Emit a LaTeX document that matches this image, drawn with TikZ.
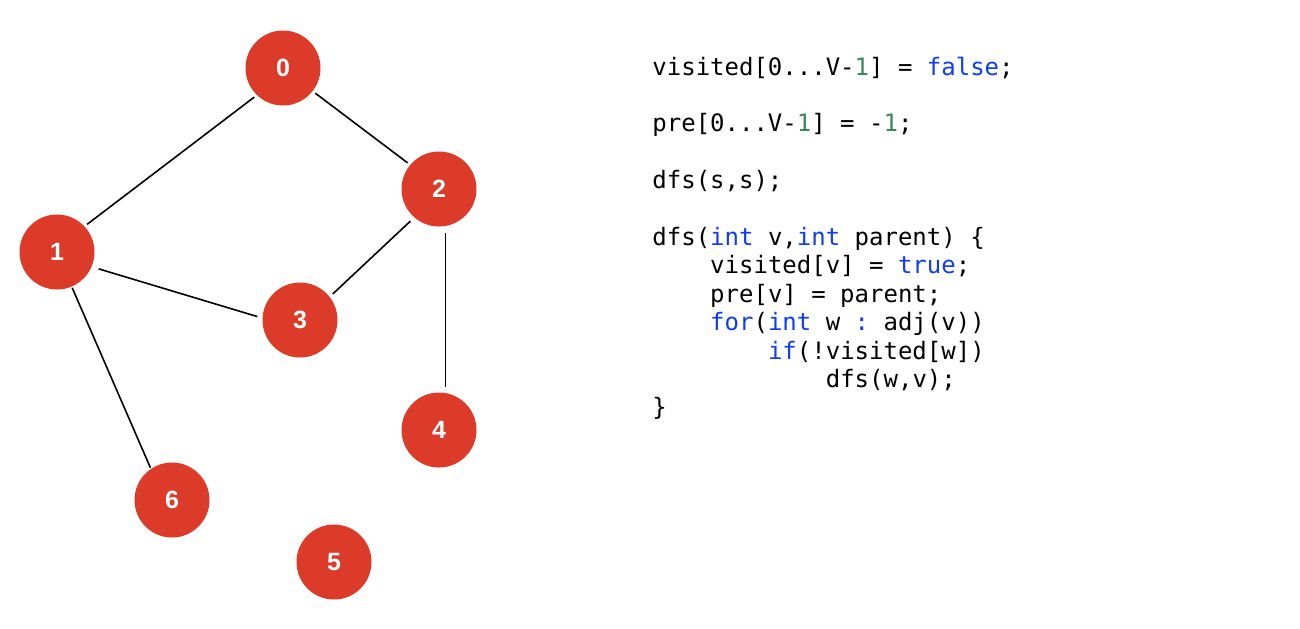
\documentclass[tikz,border=0pt]{standalone}
\usepackage{fontspec}
\setmonofont{DejaVu Sans Mono}
\newfontfamily\labelfont{Liberation Sans}
\usepackage{tikz}
\usetikzlibrary{positioning}
\definecolor{vertred}{HTML}{DB3B28}
\definecolor{kwblue}{HTML}{0F3CF5}
\definecolor{litgreen}{HTML}{3A8A5C}
\newcommand{\kw}[1]{\textcolor{kwblue}{#1}}
\newcommand{\lit}[1]{\textcolor{litgreen}{#1}}

\begin{document}
\begin{tikzpicture}[
x=0.5pt,y=-0.5pt,
vert/.style={circle,fill=vertred,minimum size=37.5pt,inner sep=0pt,
text=white,font=\labelfont\bfseries\fontsize{12.5}{14}\selectfont},
edge/.style={line width=0.8pt,shorten <=1.5pt,shorten >=1.5pt},
code/.style={anchor=base west,inner sep=0pt,
font=\ttfamily\fontsize{12}{14}\selectfont}
]
\useasboundingbox (0,0) rectangle (1300,628);

% vertices
\node[vert] (n0) at (283,68)  {0};
\node[vert] (n1) at (57,252)  {1};
\node[vert] (n2) at (439,189) {2};
\node[vert] (n3) at (300,320) {3};
\node[vert] (n4) at (439,430) {4};
\node[vert] (n5) at (334,562) {5};
\node[vert] (n6) at (172,500) {6};

% edges
\draw[edge] (n0.226) -- (n1.43);
\draw[edge] (n0.-38) -- (n2.140);
\draw[edge,shorten <=3.5pt,shorten >=2.5pt] (n1.-23) -- (n3.177);
\draw[edge,shorten <=2.5pt,shorten >=2pt] (n2.229) -- (n3.38);
\draw[edge,shorten <=3.5pt,shorten >=3pt] (n2.-80) -- (n4.80);
\draw[edge,shorten <=0.5pt,shorten >=0.5pt] (n1.-67) -- (n6.124);

% code
\foreach \row/\ind/\txt in {
0/0/{visited[0...V-\lit{1}] = \kw{false};},
2/0/{pre[0...V-\lit{1}] = -\lit{1};},
4/0/{dfs(s,s);},
6/0/{dfs(\kw{int} v,\kw{int} parent) \{},
7/4/{visited[v] = \kw{true};},
8/4/{pre[v] = parent;},
9/4/{\kw{for}(\kw{int} w \kw{:} adj(v))},
10/8/{\kw{if}(!visited[w])},
11/12/{dfs(w,v);},
12/0/{\}}}
\node[code] (line\row) at ({652+14.45*\ind},{75+28.4*\row}) {\txt};
\end{tikzpicture}
\end{document}
